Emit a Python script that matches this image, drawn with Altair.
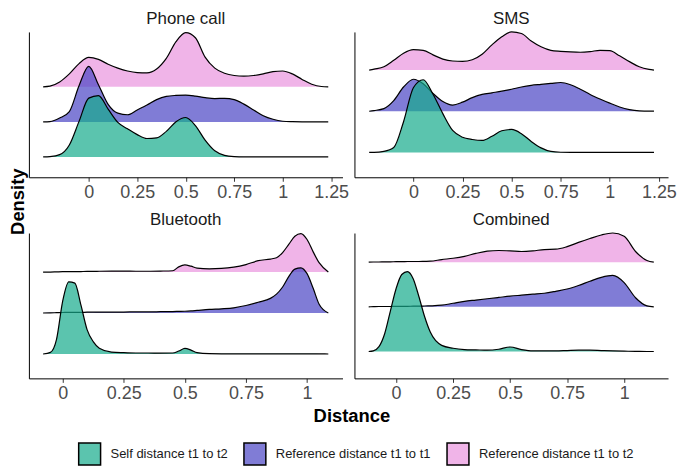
import altair as alt
import pandas as pd

SERIES = ["Self distance t1 to t2", "Reference distance t1 to t1", "Reference distance t1 to t2"]
COLORS = ["rgba(22,171,139,0.7)", "rgba(74,68,196,0.7)", "rgba(234,148,222,0.7)"]
PANELS = ["Phone call", "SMS", "Bluetooth", "Combined"]

# ---- Phone call ----
PC_X = [-0.235, -0.2, -0.15, -0.1, -0.05, 0, 0.05, 0.1, 0.15, 0.2, 0.25, 0.3, 0.35, 0.4, 0.45, 0.5,
        0.55, 0.6, 0.65, 0.7, 0.75, 0.8, 0.85, 0.9, 0.95, 1.0, 1.05, 1.1, 1.15, 1.2, 1.235]
PC_GREEN = [0, 1, 7, 37, 110, 182, 190, 148, 107, 87, 69, 57, 59, 79, 109, 122,
            97, 52, 19, 5, 1, 0, 0, 0, 0, 0, 0, 0, 0, 0, 0]
PC_PURPLE = [0, 1, 12, 32, 112, 172, 115, 54, 27, 22, 37, 52, 69, 79, 82, 83,
             80, 75, 72, 73, 69, 55, 37, 19, 8, 2, 0.5, 0, 0, 0, 0]
PC_PINK = [0, 2, 15, 40, 72, 91, 85, 70, 58, 49, 44, 43, 55, 88, 140, 168,
           152, 92, 58, 42, 35, 33, 35, 40, 47, 49, 40, 23, 8, 1, 0]

# ---- SMS ----
SMS_X = [-0.225, -0.2, -0.15, -0.1, -0.05, 0, 0.05, 0.1, 0.15, 0.2, 0.25, 0.3, 0.35, 0.4, 0.45, 0.5,
         0.55, 0.6, 0.65, 0.7, 0.75, 0.8, 0.85, 0.9, 0.95, 1.0, 1.05, 1.1, 1.15, 1.2, 1.225]
SMS_GREEN = [0, 0, 3, 15, 95, 200, 225, 180, 120, 68, 47, 40, 37, 50, 67, 71,
             58, 34, 14, 3, 0.5, 0, 0, 0, 0, 0, 0, 0, 0, 0, 0]
SMS_PURPLE = [0, 2, 8, 33, 75, 99, 85, 55, 30, 19, 28, 42, 52, 57, 62, 68,
              75, 80, 83, 86, 89, 82, 68, 52, 38, 25, 13, 5, 1, 0, 0]
SMS_PINK = [0, 3, 10, 30, 52, 63, 61, 47, 34, 28, 27, 32, 49, 78, 103, 118,
            113, 90, 72, 61, 58, 56, 55, 57, 61, 60, 44, 26, 10, 2, 0]

# ---- Bluetooth ----
BT_X = [-0.08, -0.05, -0.025, 0, 0.025, 0.05, 0.075, 0.1, 0.125, 0.15, 0.2, 0.25, 0.3, 0.35, 0.4,
        0.45, 0.475, 0.5, 0.525, 0.55, 0.6, 0.65, 0.7, 0.75, 0.8, 0.85, 0.875, 0.9, 0.925, 0.95,
        0.975, 1.0, 1.025, 1.05, 1.087]
BT_GREEN = [0, 5, 45, 162, 222, 218, 150, 75, 38, 18, 6, 4, 3, 3, 2.5,
            3, 9, 17, 12, 4, 1, 0.5, 0.5, 0.5, 0.5, 0.5, 0.5, 0.5, 0.5, 0.5,
            0.5, 0.5, 0.5, 0.3, 0]
BT_PURPLE = [0, 0.5, 1, 1.5, 2, 2, 2, 2.5, 2.5, 3, 3, 3, 3.5, 3.5, 4,
             4.5, 5, 5.5, 6.5, 8, 11, 13, 16, 23, 33, 45, 58, 80, 112, 135,
             139, 121, 76, 26, 0]
BT_PINK = [0, 0, 0.5, 1, 1, 1, 1.5, 2, 2, 2.5, 3, 3, 2.5, 2.5, 3,
           4, 16, 22, 18, 12, 10, 11, 15, 23, 35, 40, 44, 60, 85, 110,
           118, 100, 62, 28, 0]

# ---- Combined ----
CB_X = [-0.12, -0.1, -0.075, -0.05, -0.025, 0, 0.025, 0.05, 0.075, 0.1, 0.125, 0.15, 0.2, 0.25, 0.3,
        0.35, 0.4, 0.45, 0.5, 0.55, 0.6, 0.65, 0.7, 0.75, 0.8, 0.85, 0.9, 0.95, 1.0, 1.05, 1.1, 1.13]
CB_GREEN = [0, 2, 15, 55, 125, 194, 238, 247, 225, 170, 108, 60, 19, 10, 6,
            5, 4, 7, 14, 6, 2, 2, 2, 3, 4, 4, 3, 2, 1, 0.5, 0, 0]
CB_PURPLE = [0, 0.5, 1, 1, 1, 1.5, 1.5, 1.5, 2, 2, 2.5, 3, 5, 11, 17,
             21, 25, 29, 33, 36, 39, 42, 48, 55, 66, 79, 91, 97, 75, 28, 3, 0]
CB_PINK = [0, 0.5, 0.5, 1, 1, 1.5, 1.5, 2, 2, 2, 2.5, 3, 8, 12, 18,
           27, 34, 36, 35, 33, 35, 39, 40, 48, 61, 73, 84, 90, 80, 33, 5, 0]

PANEL_DATA = {
    "Phone call": (PC_X, PC_GREEN, PC_PURPLE, PC_PINK),
    "SMS": (SMS_X, SMS_GREEN, SMS_PURPLE, SMS_PINK),
    "Bluetooth": (BT_X, BT_GREEN, BT_PURPLE, BT_PINK),
    "Combined": (CB_X, CB_GREEN, CB_PURPLE, CB_PINK),
}
# vertical gap between ridge baselines (same units as heights)
RIDGE_STEP = {"Phone call": 108.5, "SMS": 127.5, "Bluetooth": 126, "Combined": 138}
Y_DOMAIN = {"Phone call": [-63, 387], "SMS": [-77, 373], "Bluetooth": [-75, 372], "Combined": [-83, 366]}
X_DOMAIN = {"Phone call": [-0.3085, 1.3085], "SMS": [-0.30, 1.2966],
            "Bluetooth": [-0.138, 1.145], "Combined": [-0.1825, 1.1925]}
TOP_TICKS = [0, 0.25, 0.5, 0.75, 1, 1.25]
BOTTOM_TICKS = [0, 0.25, 0.5, 0.75, 1]

FONT = "Liberation Sans"
W, H = 315, 146


def panel_frame(name):
    xs, g, p, k = PANEL_DATA[name]
    step = RIDGE_STEP[name]
    rows = []
    for idx, (s, hs) in enumerate(zip(SERIES, [g, p, k])):
        for x, v in zip(xs, hs):
            rows.append({"x": x, "series": s, "base": idx * step, "top": idx * step + v})
    return pd.DataFrame(rows)


legend = alt.Legend(
    title=None, orient="none", legendX=49, legendY=412, direction="horizontal", columns=3,
    symbolType="square", symbolSize=484, symbolStrokeColor="black", symbolStrokeWidth=1.5,
    symbolOpacity=1, labelFont=FONT, labelFontSize=13, labelColor="#1a1a1a", labelOffset=9,
    columnPadding=13, padding=0, labelLimit=400,
)
color_enc = alt.Color("series:N", scale=alt.Scale(domain=SERIES, range=COLORS), legend=legend)


def make_panel(name, pos):
    df = panel_frame(name)
    bottom = pos >= 2
    ticks = BOTTOM_TICKS if bottom else TOP_TICKS
    xax = dict(values=ticks, labelExpr="datum.value + ''", grid=False, domainColor="black",
               domainWidth=1, tickColor="#333333", tickSize=4, tickWidth=1, labelFont=FONT,
               labelFontSize=18, labelColor="#4D4D4D", labelPadding=2, labelFlush=False,
               labelOverlap=False)
    if pos == 2:
        xax.update(title="Distance", titleFont=FONT, titleFontSize=18.5, titleFontWeight="bold",
                   titleColor="black", titleX=324, titleY=43, titleBaseline="alphabetic",
                   titleAlign="center")
    else:
        xax.update(title=None)
    yax = dict(grid=False, ticks=False, labels=False, domainColor="black", domainWidth=1)
    if pos == 0:
        yax.update(title="Density", titleFont=FONT, titleFontSize=18.5, titleFontWeight="bold",
                   titleColor="black", titleX=-5, titleY=170, titleAngle=270,
                   titleBaseline="alphabetic", titleAlign="center")
    else:
        yax.update(title=None)
    xenc = alt.X("x:Q", scale=alt.Scale(domain=X_DOMAIN[name], nice=False, zero=False),
                 axis=alt.Axis(**xax))
    yenc = alt.Y("top:Q", scale=alt.Scale(domain=Y_DOMAIN[name], nice=False, zero=False),
                 axis=alt.Axis(**yax))
    layers = []
    for s in [SERIES[2], SERIES[1], SERIES[0]]:
        sub = alt.Chart(df).transform_filter(alt.datum.series == s)
        area = sub.mark_area(interpolate="monotone", opacity=1).encode(
            x=xenc, y=yenc, y2="base:Q", color=color_enc)
        line = sub.mark_line(interpolate="monotone", color="black", strokeWidth=1.2).encode(
            x=xenc, y=yenc)
        layers += [area, line]
    return alt.layer(*layers).properties(
        width=W, height=H,
        title=alt.TitleParams(text=name, font=FONT, fontSize=17, fontWeight="normal",
                              color="#1a1a1a", anchor="middle", offset=2),
    )


panels = [make_panel(n, i) for i, n in enumerate(PANELS)]

chart = alt.concat(
    *panels, columns=2, spacing={"row": 56, "column": 12}, bounds="flush"
).resolve_scale(
    x="independent", y="independent", color="shared"
).resolve_axis(
    x="independent", y="independent"
).properties(
    padding={"left": 1, "top": 0, "right": 0, "bottom": 0}, background="white"
).configure_view(stroke=None)

chart.save("out.html", embed_options={"renderer": "svg", "actions": False})
